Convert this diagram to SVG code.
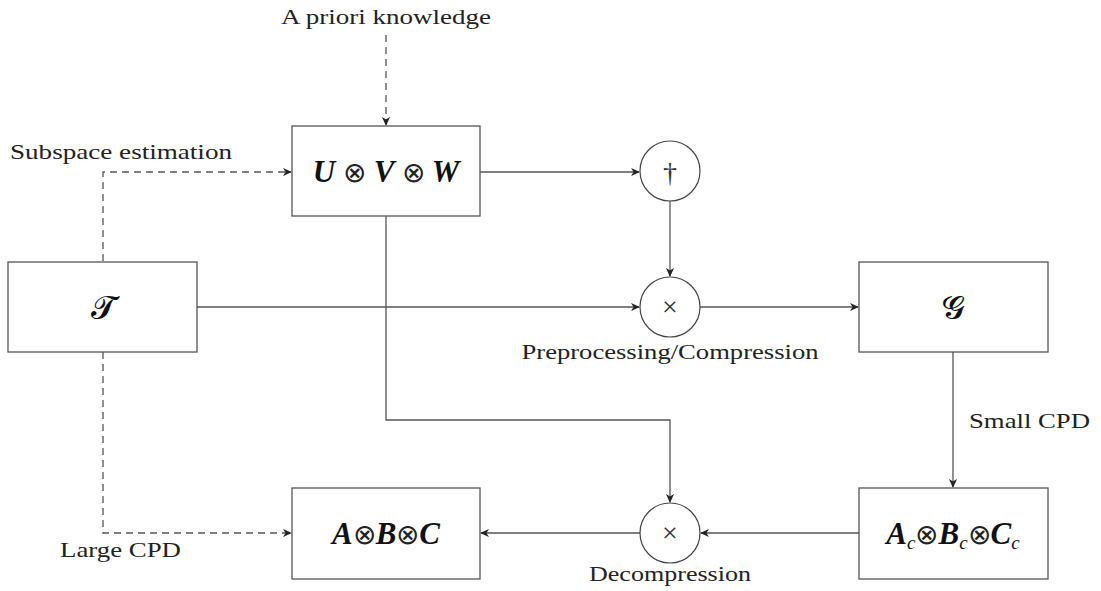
<svg xmlns="http://www.w3.org/2000/svg" width="1101" height="591" viewBox="0 0 1101 591">
<style>
.box{fill:#fff;stroke:#555;stroke-width:1.3}
.circ{fill:#fff;stroke:#444;stroke-width:1.2}
.ln{fill:none;stroke:#555;stroke-width:1.3}
.dash{stroke-dasharray:7,5}
.lbl{font-family:"Liberation Serif",serif;font-size:22px;fill:#222}
.math{font-family:"Liberation Serif",serif;font-size:31px;font-weight:bold;font-style:italic;fill:#111}
.op{font-family:"DejaVu Sans",sans-serif;font-size:28px;font-weight:200;font-style:normal;fill:#222}
.sub{font-size:19px;font-weight:normal}
.cal{font-family:"DejaVu Sans","DejaVu Serif","Noto Sans",serif;font-size:32px;fill:#111}
.sym{font-family:"Liberation Serif",serif;fill:#333}
</style>
<defs>
<marker id="ah" viewBox="0 0 10 10" refX="9" refY="5" markerWidth="9" markerHeight="9" markerUnits="userSpaceOnUse" orient="auto">
<path d="M0,0.5 L10,5 L0,9.5 L3,5 Z" fill="#222"/>
</marker>
</defs>
<g id="connectors">
<path class="ln dash" d="M386,35 V125" marker-end="url(#ah)"/>
<path class="ln dash" d="M103,261 V172 H291" marker-end="url(#ah)"/>
<path class="ln dash" d="M103,352 V533 H291" marker-end="url(#ah)"/>
<path class="ln" d="M197,307 H639" marker-end="url(#ah)"/>
<path class="ln" d="M480,172 H639" marker-end="url(#ah)"/>
<path class="ln" d="M670,201 V276" marker-end="url(#ah)"/>
<path class="ln" d="M700,307 H858" marker-end="url(#ah)"/>
<path class="ln" d="M953,352 V487" marker-end="url(#ah)"/>
<path class="ln" d="M386,216 V420 H670 V502" marker-end="url(#ah)"/>
<path class="ln" d="M859,533 H701" marker-end="url(#ah)"/>
<path class="ln" d="M640,533 H481" marker-end="url(#ah)"/>
</g>
<g id="label-apriori"><text class="lbl" x="386" y="24" text-anchor="middle" textLength="210" lengthAdjust="spacingAndGlyphs">A priori knowledge</text></g>
<g id="label-subspace"><text class="lbl" x="10" y="159" textLength="222" lengthAdjust="spacingAndGlyphs">Subspace estimation</text></g>
<g id="label-preproc"><text class="lbl" x="670" y="359" text-anchor="middle" textLength="297" lengthAdjust="spacingAndGlyphs">Preprocessing/Compression</text></g>
<g id="label-smallcpd"><text class="lbl" x="969" y="428" textLength="121" lengthAdjust="spacingAndGlyphs">Small CPD</text></g>
<g id="label-largecpd"><text class="lbl" x="60" y="557" textLength="121" lengthAdjust="spacingAndGlyphs">Large CPD</text></g>
<g id="label-decomp"><text class="lbl" x="670" y="581" text-anchor="middle" textLength="162" lengthAdjust="spacingAndGlyphs">Decompression</text></g>
<g id="node-T">
<rect class="box" x="8" y="262" width="189" height="90"/>
<text class="cal" x="103" y="318" text-anchor="middle">𝓣</text>
</g>
<g id="node-UVW">
<rect class="box" x="292" y="126" width="188" height="90"/>
<text class="math" x="386" y="182" text-anchor="middle">U <tspan class="op">⊗</tspan> V <tspan class="op">⊗</tspan> W</text>
</g>
<g id="node-dagger">
<circle class="circ" cx="670" cy="171" r="30"/>
<text class="sym" x="670" y="182" text-anchor="middle" font-size="28">†</text>
</g>
<g id="node-times1">
<circle class="circ" cx="670" cy="307" r="30"/>
<text class="sym" x="670" y="316" text-anchor="middle" font-size="28">×</text>
</g>
<g id="node-G">
<rect class="box" x="859" y="262" width="189" height="90"/>
<text class="cal" x="953" y="318" text-anchor="middle">𝓖</text>
</g>
<g id="node-AcBcCc">
<rect class="box" x="859" y="488" width="189" height="91"/>
<text class="math" x="953" y="544" text-anchor="middle">A<tspan class="sub" dy="5">c</tspan><tspan class="op" dy="-5">⊗</tspan>B<tspan class="sub" dy="5">c</tspan><tspan class="op" dy="-5">⊗</tspan>C<tspan class="sub" dy="5">c</tspan></text>
</g>
<g id="node-times2">
<circle class="circ" cx="670" cy="533" r="30"/>
<text class="sym" x="670" y="542" text-anchor="middle" font-size="28">×</text>
</g>
<g id="node-ABC">
<rect class="box" x="292" y="488" width="188" height="91"/>
<text class="math" x="386" y="544" text-anchor="middle">A<tspan class="op">⊗</tspan>B<tspan class="op">⊗</tspan>C</text>
</g>
</svg>
